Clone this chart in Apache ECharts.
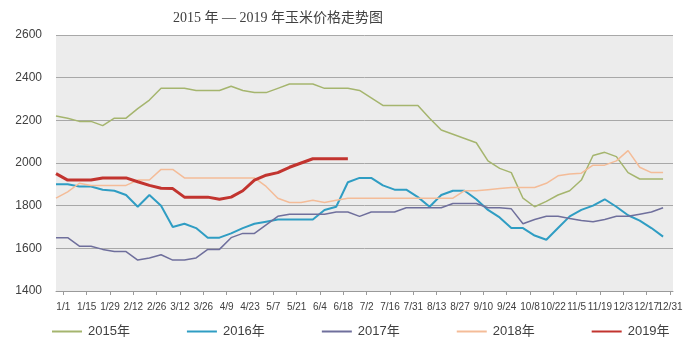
<!DOCTYPE html>
<html>
<head>
<meta charset="utf-8">
<script src="https://cdn.jsdelivr.net/npm/echarts@6/dist/echarts.min.js"></script>
<style>
  html, body { margin: 0; padding: 0; background: #ffffff; }
  #chart { width: 700px; height: 345px; }
</style>
</head>
<body>
<div id="chart"></div>
<script>
// Weekly corn prices (yuan/ton), one value per week from early January
const years = ['2015年', '2016年', '2017年', '2018年', '2019年'];

const price2015 = [2220, 2210, 2195, 2195, 2175, 2210, 2210, 2255, 2295, 2350,
  2350, 2350, 2340, 2340, 2340, 2360, 2340, 2330, 2330, 2350,
  2370, 2370, 2370, 2350, 2350, 2350, 2340, 2305, 2270, 2270,
  2270, 2270, 2210, 2155, 2135, 2115, 2095, 2010, 1975, 1955,
  1835, 1795, 1820, 1850, 1870, 1920, 2035, 2050, 2030, 1955,
  1925, 1925, 1925];

const price2016 = [1900, 1900, 1890, 1890, 1875, 1870, 1850, 1795, 1850, 1800,
  1700, 1715, 1695, 1650, 1650, 1670, 1695, 1715, 1725, 1735,
  1735, 1735, 1735, 1780, 1795, 1910, 1930, 1930, 1895, 1875,
  1875, 1840, 1795, 1850, 1870, 1870, 1830, 1780, 1745, 1695,
  1695, 1660, 1640, 1695, 1750, 1780, 1800, 1830, 1795, 1755,
  1730, 1695, 1655];

const price2017 = [1650, 1650, 1610, 1610, 1595, 1585, 1585, 1545, 1555, 1570,
  1545, 1545, 1555, 1595, 1595, 1650, 1670, 1670, 1710, 1750,
  1760, 1760, 1760, 1760, 1770, 1770, 1750, 1770, 1770, 1770,
  1790, 1790, 1790, 1790, 1810, 1810, 1810, 1790, 1790, 1785,
  1715, 1735, 1750, 1750, 1740, 1730, 1725, 1735, 1750, 1750,
  1760, 1770, 1790];

const price2018 = [1835, 1865, 1905, 1895, 1895, 1895, 1895, 1920, 1920, 1970,
  1970, 1930, 1930, 1930, 1930, 1930, 1930, 1930, 1890, 1835,
  1815, 1815, 1825, 1815, 1825, 1835, 1835, 1835, 1835, 1835,
  1835, 1835, 1835, 1835, 1835, 1870, 1870, 1875, 1880, 1885,
  1885, 1885, 1905, 1940, 1948, 1952, 1990, 1990, 2010, 2058,
  1980, 1955, 1955];

const price2019 = [1950, 1920, 1920, 1920, 1930, 1930, 1930, 1912, 1895, 1882,
  1880, 1840, 1840, 1840, 1830, 1840, 1870, 1920, 1943, 1955,
  1980, 2000, 2020, 2020, 2020, 2020];

const dateTicks = ['1/1', '1/15', '1/29', '2/12', '2/26', '3/12', '3/26', '4/9', '4/23',
  '5/7', '5/21', '6/4', '6/18', '7/2', '7/16', '7/31', '8/13', '8/27', '9/10', '9/24',
  '10/8', '10/22', '11/5', '11/19', '12/3', '12/17', '12/31'];

const seriesValues = [price2015, price2016, price2017, price2018, price2019];
const seriesColors = ['#a5b56e', '#2f9dc3', '#6f6f9c', '#f4bc98', '#c2342f'];
const seriesWidths = [1.5, 2, 1.5, 1.5, 3];

const chart = echarts.init(document.getElementById('chart'), null, { renderer: 'canvas' });

const sansFont = "'Liberation Sans', 'Noto Sans CJK SC', sans-serif";

chart.setOption({
  animation: false,
  backgroundColor: '#ffffff',
  title: {
    text: '2015 年 — 2019 年玉米价格走势图',
    left: 168,
    top: 6,
    textStyle: {
      fontFamily: "'Liberation Serif', 'Noto Sans CJK SC', serif",
      fontSize: 14,
      fontWeight: 'normal',
      color: '#404040'
    }
  },
  legend: {
    data: years,
    left: 52,
    top: 325,
    padding: 0,
    icon: 'rect',
    itemWidth: 30,
    itemHeight: 2,
    itemGap: 57,
    textStyle: { fontFamily: sansFont, fontSize: 13, color: '#404040', padding: [0, 0, 0, 1] }
  },
  grid: [
    { left: 56, top: 35, width: 617, height: 256, show: true, backgroundColor: '#ececec', borderWidth: 0 },
    { left: 63.3, top: 35, width: 606.7, height: 256, show: false }
  ],
  xAxis: [
    {
      type: 'value', gridIndex: 0, min: 0, max: 52.85,
      axisLine: { show: true, lineStyle: { color: '#9a9a9a', width: 1 } },
      axisTick: { show: false }, axisLabel: { show: false }, splitLine: { show: false }
    },
    {
      type: 'category', gridIndex: 1, boundaryGap: false, data: dateTicks,
      axisLine: { show: false },
      axisTick: { show: true, length: 4, interval: 0, lineStyle: { color: '#9a9a9a' } },
      axisLabel: {
        interval: 0, margin: 11, fontSize: 10, color: '#404040',
        fontFamily: "'Liberation Sans Narrow', 'Liberation Sans', sans-serif"
      },
      splitLine: { show: false }
    }
  ],
  yAxis: [
    {
      type: 'value', gridIndex: 0, min: 1400, max: 2600, interval: 200,
      axisLine: { show: false }, axisTick: { show: false },
      axisLabel: {
        margin: 14, fontSize: 12, color: '#404040', fontFamily: sansFont,
        formatter: (v) => String(v)
      },
      splitLine: { show: true, lineStyle: { color: '#a8a8a8', width: 1 } }
    },
    { type: 'value', gridIndex: 1, show: false, min: 0, max: 1 }
  ],
  series: years.map((name, k) => ({
    name: name,
    type: 'line',
    xAxisIndex: 0,
    yAxisIndex: 0,
    symbol: 'none',
    color: seriesColors[k],
    lineStyle: { color: seriesColors[k], width: seriesWidths[k] },
    data: seriesValues[k].map((v, i) => [i, v])
  }))
});
</script>
</body>
</html>
